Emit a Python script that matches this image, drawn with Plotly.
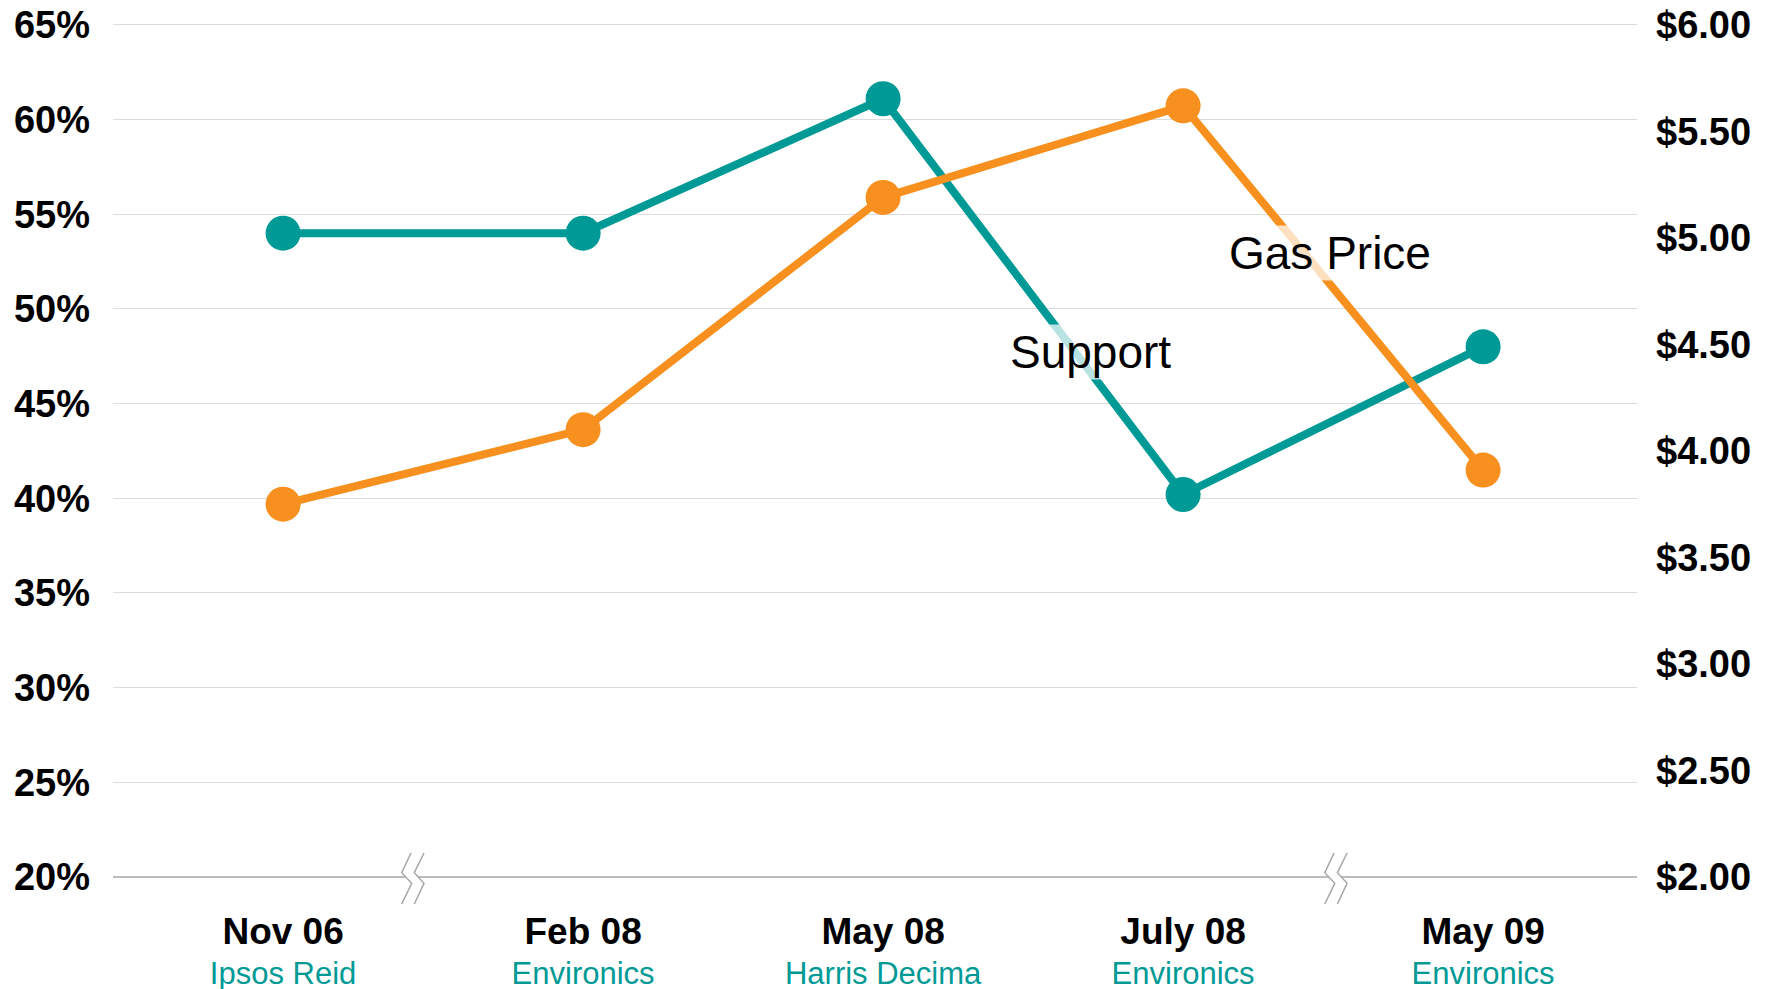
import plotly.graph_objects as go

# ---- data ----
periods = ["Nov 06", "Feb 08", "May 08", "July 08", "May 09"]
pollsters = ["Ipsos Reid", "Environics", "Harris Decima", "Environics", "Environics"]
support_pct = [54.0, 54.0, 61.1, 40.2, 48.0]
gas_price = [3.75, 4.10, 5.19, 5.62, 3.91]
left_ticks = [20, 25, 30, 35, 40, 45, 50, 55, 60, 65]
right_ticks = [2.0, 2.5, 3.0, 3.5, 4.0, 4.5, 5.0, 5.5, 6.0]
break_positions = [0.433, 3.51]  # axis-break marks between categories

TEAL = "#009A96"
ORANGE = "#F7901E"
FONT = "Liberation Sans, Arial, sans-serif"

xs = list(range(len(periods)))
ticktext = [
    f"<span style='font-size:37px'><b>{p}</b></span><br><span style='color:{TEAL}'>{s}</span>"
    for p, s in zip(periods, pollsters)
]
left_text = [f"{v}%" for v in left_ticks]
right_text = [f"${v:.2f}" for v in right_ticks]

fig = go.Figure()
fig.add_trace(go.Scatter(
    x=xs, y=support_pct, mode="lines+markers", name="Support",
    line=dict(color=TEAL, width=8), marker=dict(color=TEAL, size=35),
    yaxis="y", cliponaxis=False, showlegend=False,
))
fig.add_trace(go.Scatter(
    x=xs, y=gas_price, mode="lines+markers", name="Gas Price",
    line=dict(color=ORANGE, width=8), marker=dict(color=ORANGE, size=35),
    yaxis="y2", cliponaxis=False, showlegend=False,
))

fig.add_annotation(x=2.692, y=47.75, xref="x", yref="y", text="Support",
                   showarrow=False, font=dict(family=FONT, size=46, color="black"),
                   bgcolor="rgba(255,255,255,0.72)")
fig.add_annotation(x=3.49, y=52.95, xref="x", yref="y", text="Gas Price",
                   showarrow=False, font=dict(family=FONT, size=46, color="black"),
                   bgcolor="rgba(255,255,255,0.72)")

shapes = [dict(type="line", xref="paper", yref="paper", x0=0, x1=1, y0=0, y1=0,
               line=dict(color="#a6a6a6", width=1.5), layer="above")]
for bx in break_positions:
    common = dict(xref="x", yref="paper", layer="above",
                  xsizemode="pixel", ysizemode="pixel", xanchor=bx, yanchor=0)
    shapes.append(dict(type="rect", x0=-7, x1=5, y0=-3, y1=3,
                       fillcolor="white", line=dict(width=0), **common))
    shapes.append(dict(type="path", path="M -2,24 L -11.3,4.3 L -1.3,-6.3 L -11.3,-27",
                       line=dict(color="#a6a6a6", width=1.5), **common))
    shapes.append(dict(type="path", path="M 11,24 L 1.3,4.3 L 11,-6.3 L 1.3,-27",
                       line=dict(color="#a6a6a6", width=1.5), **common))

# page body has an 8px margin, so the figure is shifted by 8px
fig.update_layout(
    width=1767, height=981,
    margin=dict(l=105, r=138, t=15, b=112),
    paper_bgcolor="white", plot_bgcolor="white",
    shapes=shapes,
    xaxis=dict(
        range=[-0.567, 4.513], tickvals=xs, ticktext=ticktext,
        showgrid=False, zeroline=False, showline=False, ticks="",
        tickfont=dict(family=FONT, size=31, color="black"),
        ticklabelstandoff=35, automargin=False, ticklabeloverflow="allow",
    ),
    yaxis=dict(
        range=[20, 65.1], tickvals=left_ticks, ticktext=left_text,
        showgrid=True, gridcolor="#dcdcdc", gridwidth=1,
        zeroline=False, showline=False, ticks="",
        tickfont=dict(family=FONT, size=38, color="black", weight="bold"),
        ticklabelstandoff=22, automargin=False, ticklabeloverflow="allow",
    ),
    yaxis2=dict(
        range=[2, 6.00889], tickvals=right_ticks, ticktext=right_text,
        overlaying="y", side="right", showgrid=False, zeroline=False,
        showline=False, ticks="",
        tickfont=dict(family=FONT, size=38, color="black", weight="bold"),
        ticklabelstandoff=18, automargin=False, ticklabeloverflow="allow",
    ),
)

fig.write_html("out.html")
